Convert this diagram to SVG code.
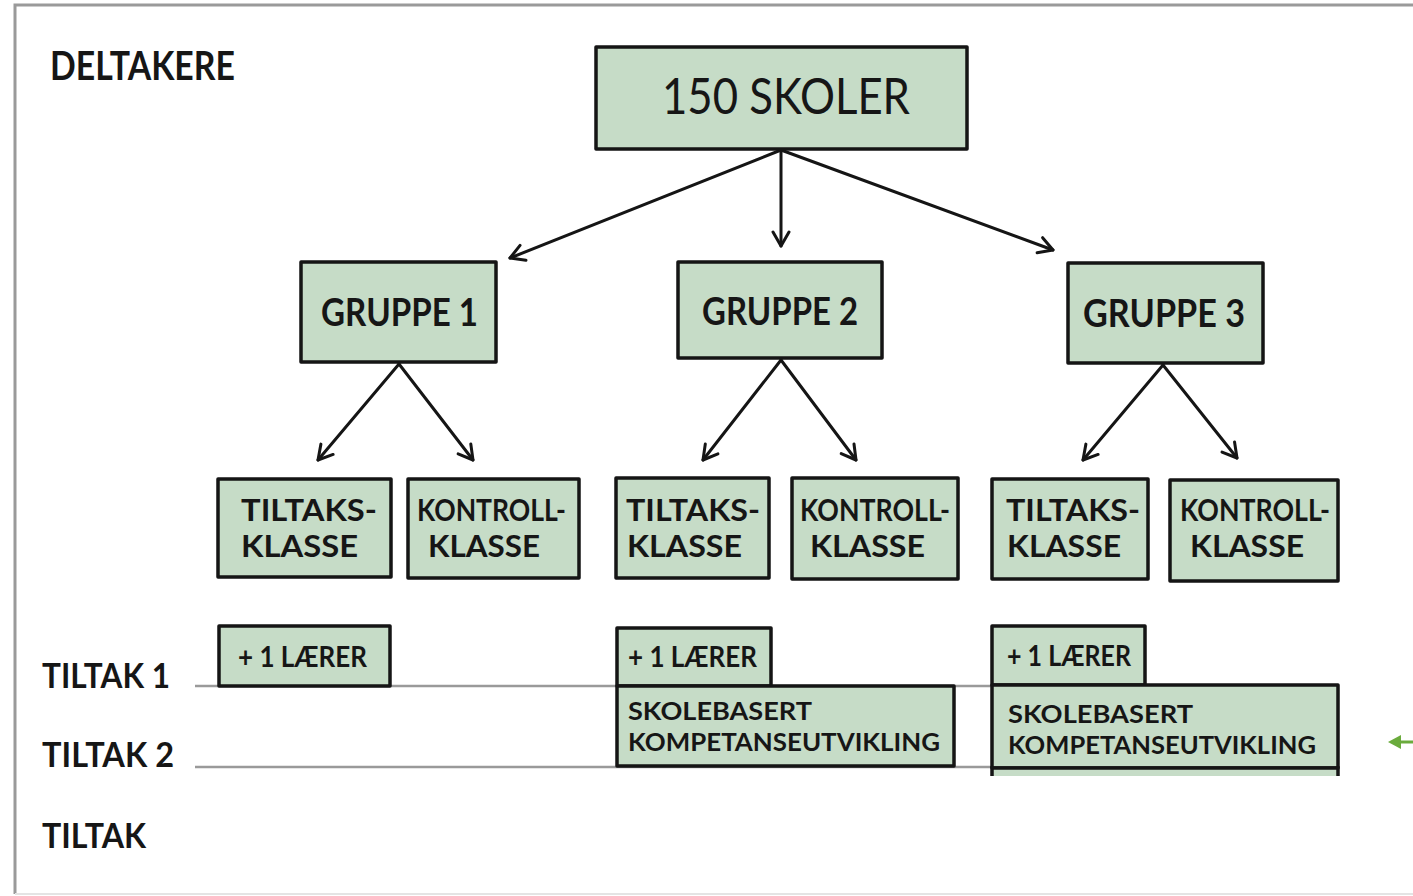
<svg xmlns="http://www.w3.org/2000/svg" width="1413" height="896" viewBox="0 0 1413 896">
<defs>
<style>
.box{fill:#c6dcc7;stroke:#151515;stroke-width:3.5;stroke-linejoin:round}
.t{font-family:Lato,"Open Sans","Liberation Sans",sans-serif;font-weight:700;fill:#161616}
.k{font-size:30px}
.s{font-size:25px}
.con{stroke:#151515;stroke-width:3;fill:none;stroke-linecap:round}
.row{stroke:#9a9a9a;stroke-width:2.5}
</style>
<marker id="ah" viewBox="0 0 20 20" refX="18" refY="10" markerWidth="20" markerHeight="20" markerUnits="userSpaceOnUse" orient="auto">
<path d="M4,2 L18,10 L4,18" fill="none" stroke="#151515" stroke-width="3" stroke-linecap="round" stroke-linejoin="round"/>
</marker>
</defs>
<rect x="0" y="0" width="1413" height="896" fill="#fff"/>
<path d="M15,894 L15,5 L1413,5" fill="none" stroke="#9a9a9a" stroke-width="3"/>
<line x1="15" y1="894" x2="1413" y2="894" stroke="#e4e4e4" stroke-width="2"/>

<text class="t" x="50" y="80" font-size="40" textLength="185" lengthAdjust="spacingAndGlyphs">DELTAKERE</text>
<text class="t" x="42" y="688" font-size="34" textLength="128" lengthAdjust="spacingAndGlyphs">TILTAK 1</text>
<text class="t" x="42" y="767" font-size="34" textLength="132" lengthAdjust="spacingAndGlyphs">TILTAK 2</text>
<text class="t" x="42" y="848" font-size="34" textLength="104" lengthAdjust="spacingAndGlyphs">TILTAK</text>

<g id="rows">
<line class="row" x1="195" y1="686" x2="992" y2="686"/>
<line class="row" x1="195" y1="767" x2="992" y2="767"/>
</g>

<g id="connectors">
<line class="con" x1="781" y1="150" x2="510" y2="258" marker-end="url(#ah)"/>
<line class="con" x1="781" y1="150" x2="781" y2="246" marker-end="url(#ah)"/>
<line class="con" x1="781" y1="150" x2="1053" y2="250" marker-end="url(#ah)"/>
<line class="con" x1="399" y1="364" x2="318" y2="460" marker-end="url(#ah)"/>
<line class="con" x1="399" y1="364" x2="473" y2="460" marker-end="url(#ah)"/>
<line class="con" x1="781" y1="360" x2="703" y2="460" marker-end="url(#ah)"/>
<line class="con" x1="781" y1="360" x2="856" y2="460" marker-end="url(#ah)"/>
<line class="con" x1="1163" y1="365" x2="1083" y2="460" marker-end="url(#ah)"/>
<line class="con" x1="1163" y1="365" x2="1237" y2="458" marker-end="url(#ah)"/>
</g>

<g id="skoler">
<rect class="box" x="596" y="47" width="371" height="102"/>
<text class="t" x="662" y="114" style="font-size:50px;font-weight:400" textLength="248" lengthAdjust="spacingAndGlyphs">150 SKOLER</text>
</g>

<g id="gruppe1">
<rect class="box" x="301" y="262" width="195" height="100"/>
<text class="t" x="321" y="326" font-size="39" textLength="157" lengthAdjust="spacingAndGlyphs">GRUPPE 1</text>
</g>
<g id="gruppe2">
<rect class="box" x="678" y="262" width="204" height="96"/>
<text class="t" x="702" y="325" font-size="39" textLength="156" lengthAdjust="spacingAndGlyphs">GRUPPE 2</text>
</g>
<g id="gruppe3">
<rect class="box" x="1068" y="263" width="195" height="100"/>
<text class="t" x="1083" y="327" font-size="39" textLength="162" lengthAdjust="spacingAndGlyphs">GRUPPE 3</text>
</g>

<g id="tiltak1">
<rect class="box" x="218" y="479" width="173" height="98"/>
<text class="t k" x="241" y="521" textLength="136" lengthAdjust="spacingAndGlyphs">TILTAKS-</text>
<text class="t k" x="241" y="557" textLength="117" lengthAdjust="spacingAndGlyphs">KLASSE</text>
</g>
<g id="kontroll1">
<rect class="box" x="408" y="479" width="171" height="99"/>
<text class="t k" x="417" y="521" textLength="149" lengthAdjust="spacingAndGlyphs">KONTROLL-</text>
<text class="t k" x="428" y="557" textLength="112" lengthAdjust="spacingAndGlyphs">KLASSE</text>
</g>
<g id="tiltak2">
<rect class="box" x="616" y="478" width="153" height="100"/>
<text class="t k" x="626" y="521" textLength="134" lengthAdjust="spacingAndGlyphs">TILTAKS-</text>
<text class="t k" x="627" y="557" textLength="115" lengthAdjust="spacingAndGlyphs">KLASSE</text>
</g>
<g id="kontroll2">
<rect class="box" x="792" y="478" width="166" height="101"/>
<text class="t k" x="800" y="521" textLength="150" lengthAdjust="spacingAndGlyphs">KONTROLL-</text>
<text class="t k" x="810" y="557" textLength="115" lengthAdjust="spacingAndGlyphs">KLASSE</text>
</g>
<g id="tiltak3">
<rect class="box" x="992" y="479" width="156" height="100"/>
<text class="t k" x="1006" y="521" textLength="134" lengthAdjust="spacingAndGlyphs">TILTAKS-</text>
<text class="t k" x="1007" y="557" textLength="114" lengthAdjust="spacingAndGlyphs">KLASSE</text>
</g>
<g id="kontroll3">
<rect class="box" x="1170" y="480" width="168" height="101"/>
<text class="t k" x="1180" y="521" textLength="150" lengthAdjust="spacingAndGlyphs">KONTROLL-</text>
<text class="t k" x="1190" y="557" textLength="114" lengthAdjust="spacingAndGlyphs">KLASSE</text>
</g>

<g id="laerer1">
<rect class="box" x="219" y="626" width="171" height="60"/>
<text class="t" x="238" y="667" font-size="28" textLength="129" lengthAdjust="spacingAndGlyphs">+ 1 LÆRER</text>
</g>
<g id="laerer2">
<rect class="box" x="617" y="628" width="154" height="58"/>
<text class="t" x="628" y="667" font-size="28" textLength="129" lengthAdjust="spacingAndGlyphs">+ 1 LÆRER</text>
</g>
<g id="laerer3">
<rect class="box" x="992" y="626" width="153" height="59"/>
<text class="t" x="1007" y="666" font-size="28" textLength="124" lengthAdjust="spacingAndGlyphs">+ 1 LÆRER</text>
</g>

<g id="skolebasert2">
<rect class="box" x="617" y="686" width="337" height="80"/>
<text class="t s" x="628" y="720" textLength="184" lengthAdjust="spacingAndGlyphs">SKOLEBASERT</text>
<text class="t s" x="628" y="751" textLength="312" lengthAdjust="spacingAndGlyphs">KOMPETANSEUTVIKLING</text>
</g>
<g id="skolebasert3">
<rect class="box" x="992" y="685" width="346" height="83"/>
<text class="t s" x="1008" y="723" textLength="185" lengthAdjust="spacingAndGlyphs">SKOLEBASERT</text>
<text class="t s" x="1008" y="754" textLength="308" lengthAdjust="spacingAndGlyphs">KOMPETANSEUTVIKLING</text>
</g>
<g id="tiltak3box">
<rect x="992" y="768" width="346" height="8" fill="#c6dcc7"/>
<path d="M992,776 L992,768 L1338,768 L1338,776" fill="none" stroke="#151515" stroke-width="3.5"/>
</g>

<g id="green-arrow">
<line x1="1398" y1="742" x2="1413" y2="742" stroke="#6aab3c" stroke-width="3"/>
<path d="M1388,742 L1401,735 L1401,749 Z" fill="#6aab3c"/>
</g>
</svg>
